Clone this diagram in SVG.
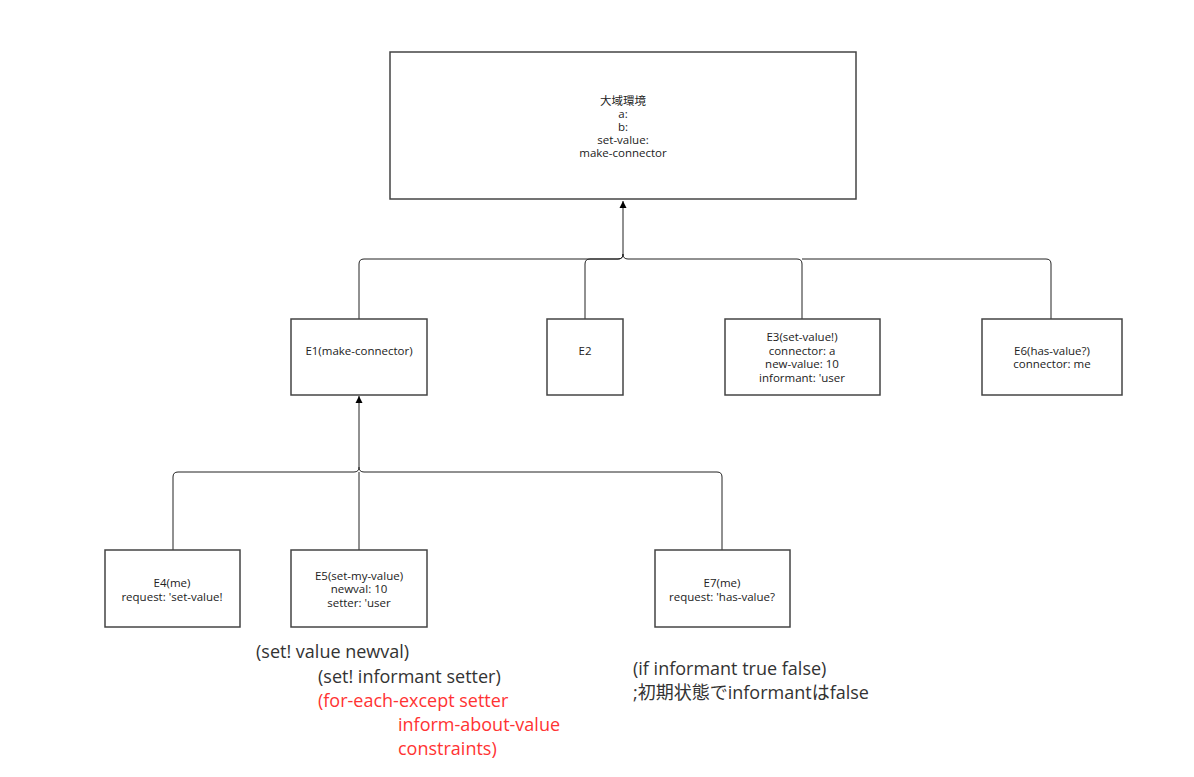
<svg xmlns="http://www.w3.org/2000/svg" width="1194" height="777" viewBox="0 0 1194 777">
  <style>
    .box { fill: #ffffff; stroke: #444444; stroke-width: 1.5; }
    .lbl { font-family: "Open Sans", "Noto Sans", "Noto Sans CJK JP", sans-serif; font-size: 11.5px; fill: #222222; text-anchor: middle; }
    .edge { fill: none; stroke: #222222; stroke-width: 1; }
    .note { font-family: "Open Sans", "Noto Sans", "Noto Sans CJK JP", sans-serif; font-size: 18px; fill: #333333; }
    .red { fill: #ff3333; }
  </style>
  <defs>
    <marker id="arrow" viewBox="0 0 10 10" refX="10" refY="5" markerWidth="7" markerHeight="8" markerUnits="userSpaceOnUse" orient="auto">
      <path d="M0,0 L10,5 L0,10 Z" fill="#000000"/>
    </marker>
  </defs>
  <rect width="1194" height="777" fill="#ffffff"/>

  <!-- connectors: branches join a shared trunk that carries the arrowhead -->
  <g id="connectors">
    <path class="edge" d="M359,319 V264 Q359,259 364,259 H618 Q623,259 623,254 V201" marker-end="url(#arrow)"/>
    <path class="edge" d="M585,319 V264 Q585,259 590,259 H618 Q623,259 623,254"/>
    <path class="edge" d="M802,319 V264 Q802,259 797,259 H628 Q623,259 623,254"/>
    <path class="edge" d="M1051,319 V264 Q1051,259 1046,259 H802"/>
    <path class="edge" d="M173,550 V477 Q173,472 178,472 H354 Q359,472 359,467 V396" marker-end="url(#arrow)"/>
    <path class="edge" d="M359,550 V472"/>
    <path class="edge" d="M722,550 V477 Q722,472 717,472 H364 Q359,472 359,467"/>
  </g>

  <g id="global-env">
    <rect class="box" x="390" y="52" width="466" height="147"/>
    <text class="lbl" x="623" y="105">大域環境</text>
    <text class="lbl" x="623" y="118">a:</text>
    <text class="lbl" x="623" y="131">b:</text>
    <text class="lbl" x="623" y="144">set-value:</text>
    <text class="lbl" x="623" y="157">make-connector</text>
  </g>

  <g id="E1">
    <rect class="box" x="291" y="319" width="136" height="76"/>
    <text class="lbl" x="359" y="355">E1(make-connector)</text>
  </g>

  <g id="E2">
    <rect class="box" x="547" y="319" width="76" height="76"/>
    <text class="lbl" x="585" y="355">E2</text>
  </g>

  <g id="E3">
    <rect class="box" x="725" y="319" width="155" height="76"/>
    <text class="lbl" x="802" y="341">E3(set-value!)</text>
    <text class="lbl" x="802" y="355">connector: a</text>
    <text class="lbl" x="802" y="368">new-value: 10</text>
    <text class="lbl" x="802" y="382">informant: 'user</text>
  </g>

  <g id="E6">
    <rect class="box" x="982" y="319" width="140" height="76"/>
    <text class="lbl" x="1052" y="355">E6(has-value?)</text>
    <text class="lbl" x="1052" y="368">connector: me</text>
  </g>

  <g id="E4">
    <rect class="box" x="105" y="550" width="135" height="77"/>
    <text class="lbl" x="172" y="587">E4(me)</text>
    <text class="lbl" x="172" y="601">request: 'set-value!</text>
  </g>

  <g id="E5">
    <rect class="box" x="291" y="550" width="136" height="77"/>
    <text class="lbl" x="359" y="580">E5(set-my-value)</text>
    <text class="lbl" x="359" y="593">newval: 10</text>
    <text class="lbl" x="359" y="607">setter: 'user</text>
  </g>

  <g id="E7">
    <rect class="box" x="655" y="550" width="135" height="77"/>
    <text class="lbl" x="722" y="587">E7(me)</text>
    <text class="lbl" x="722" y="601">request: 'has-value?</text>
  </g>

  <g id="note-set-my-value">
    <text class="note" x="256" y="658">(set! value newval)</text>
    <text class="note" x="318" y="683">(set! informant setter)</text>
    <text class="note red" x="318" y="707">(for-each-except setter</text>
    <text class="note red" x="398" y="731">inform-about-value</text>
    <text class="note red" x="398" y="755">constraints)</text>
  </g>

  <g id="note-has-value">
    <text class="note" x="633" y="675">(if informant true false)</text>
    <text class="note" x="633" y="699">;初期状態でinformantはfalse</text>
  </g>
</svg>
